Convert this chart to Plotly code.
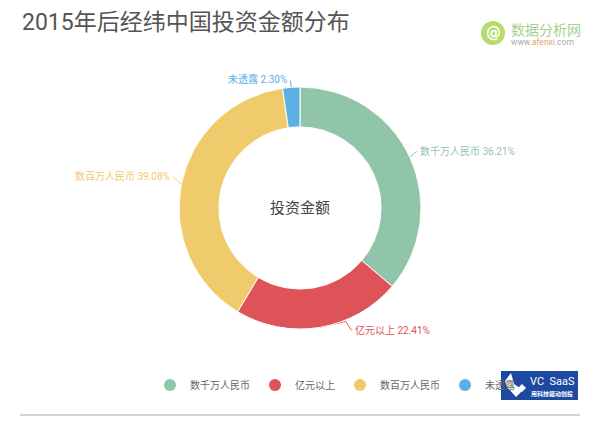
import math
import plotly.graph_objects as go

categories = ["数千万人民币", "亿元以上", "数百万人民币", "未透露"]
values = [36.21, 22.41, 39.08, 2.30]
colors = ["#91c5a9", "#dd5357", "#f0cb6b", "#5ab1e2"]
title_text = "2015年后经纬中国投资金额分布"
center_text = "投资金额"

W, H = 600, 428
CX, CY, R, HOLE = 300, 208, 121, 0.67
CJK = "Roboto, 'Noto Sans CJK SC', sans-serif"

# leader offsets from the slice's outer edge (px), and the label's anchor side
leaders = [
    [(7, -6)],
    [(26, -6), (32, 3)],
    [(-8, -7)],
    [(-1, -7)],
]
anchors = ["left", "left", "right", "right"]

fig = go.Figure()
fig.add_trace(go.Pie(
    labels=categories, values=values, sort=False, direction="clockwise", rotation=0,
    hole=HOLE, marker=dict(colors=colors, line=dict(color="#ffffff", width=1)),
    textinfo="none", hoverinfo="label+percent", showlegend=False,
    domain=dict(x=[(CX - R) / W, (CX + R) / W], y=[1 - (CY + R) / H, 1 - (CY - R) / H]),
))

annotations = []
cum = 0.0
total = sum(values)
for cat, val, col, offs, side in zip(categories, values, colors, leaders, anchors):
    ang = (cum + val / 2) / total * 2 * math.pi
    cum += val
    px, py = CX + R * math.sin(ang), CY - R * math.cos(ang)
    xs, ys = [px], [py]
    for dx, dy in offs:
        xs.append(px + dx)
        ys.append(py + dy)
    fig.add_trace(go.Scatter(x=xs, y=ys, mode="lines", line=dict(color=col, width=1),
                             hoverinfo="skip", showlegend=False))
    annotations.append(dict(
        x=xs[-1] + (1 if side == "left" else -1), y=ys[-1] + (0 if side == "left" else -1),
        xref="x", yref="y", text=f"{cat} {val:.2f}%", showarrow=False, xanchor=side, yanchor="middle",
        font=dict(size=10, color=col, family=CJK),
    ))

for cat, col in zip(categories, colors):
    fig.add_trace(go.Scatter(x=[None], y=[None], mode="markers", name=cat,
                             marker=dict(color=col, size=12, symbol="circle")))

annotations += [
    dict(x=20, y=22, xref="x", yref="y", text=title_text, showarrow=False, xanchor="left", yanchor="middle",
         font=dict(size=23, color="#555555", family=CJK)),
    dict(x=CX, y=CY, xref="x", yref="y", text=center_text, showarrow=False,
         font=dict(size=15, color="#444444", family=CJK)),
    # afenxi logo
    dict(x=493, y=33, xref="x", yref="y", text="<b>@</b>", showarrow=False,
         font=dict(size=15, color="#ffffff", family="DejaVu Sans")),
    dict(x=509, y=30, xref="x", yref="y", text="数据分析网", showarrow=False, xanchor="left",
         font=dict(size=14, color="#a5cf8f", family=CJK)),
    dict(x=509, y=42, xref="x", yref="y", showarrow=False, xanchor="left",
         text="<span style='color:#aaaaaa'>www.</span><span style='color:#e8a070'>afenxi</span><span style='color:#aaaaaa'>.com</span>",
         font=dict(size=8.5, family="Roboto")),
    # VC SaaS logo
    dict(x=552, y=381, xref="x", yref="y", text="VC  SaaS", showarrow=False,
         font=dict(size=11, color="#ffffff", family="Roboto")),
    dict(x=552, y=394, xref="x", yref="y", text="<b>用科技驱动创投</b>", showarrow=False,
         font=dict(size=6, color="#ffffff", family=CJK)),
]

shapes = [
    dict(type="line", xref="x", yref="y", x0=20, x1=580, y0=415, y1=415, line=dict(color="#aaaaaa", width=1)),
    dict(type="circle", xref="x", yref="y", x0=481, x1=505, y0=21, y1=45, fillcolor="#b7da6c", line=dict(width=0)),
    dict(type="rect", xref="x", yref="y", x0=501, x1=578, y0=371, y1=400, fillcolor="#1d4aa0", line=dict(width=0)),
    dict(type="path", xref="x", yref="y",
         path="M 511 373 L 505 381 L 507 387 L 516 397 L 523 390 L 514 384 L 513 380 Z",
         fillcolor="#ffffff", line=dict(width=0)),
    dict(type="path", xref="x", yref="y",
         path="M 518 388 L 522 384 L 526 388 L 522 392 Z",
         fillcolor="#ffffff", line=dict(width=0)),
]

fig.update_layout(
    width=W, height=H, margin=dict(l=0, r=0, t=0, b=0),
    paper_bgcolor="#ffffff", plot_bgcolor="rgba(0,0,0,0)",
    xaxis=dict(visible=False, range=[0, W], domain=[0, 1], fixedrange=True),
    yaxis=dict(visible=False, range=[H, 0], domain=[0, 1], fixedrange=True),
    annotations=annotations, shapes=shapes,
    legend=dict(orientation="h", x=0.25, y=1 - 385 / H, xanchor="left", yanchor="middle",
                font=dict(size=10, color="#666666", family=CJK), itemwidth=30,
                bgcolor="rgba(0,0,0,0)"),
)
fig.write_html("out.html", config=dict(displayModeBar=False),
               post_script="document.body.style.margin='0';")
